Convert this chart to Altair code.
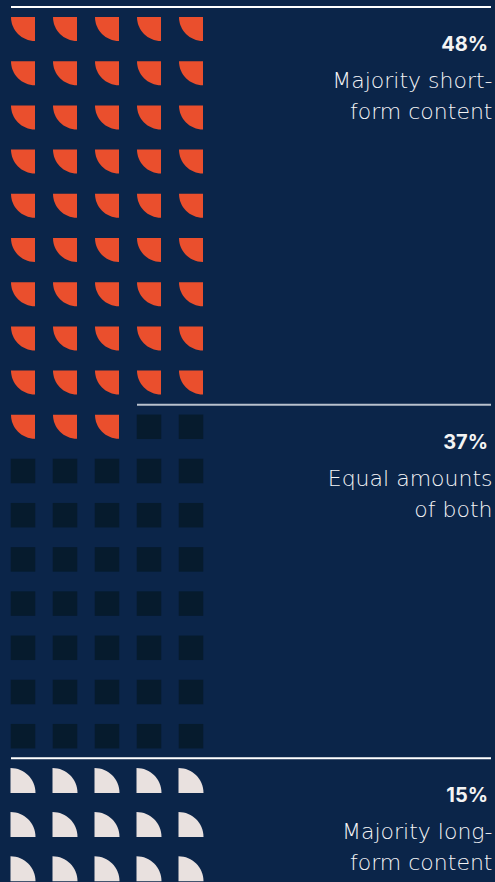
import altair as alt
import pandas as pd

# ---- data ----
categories = ["Majority short-form content", "Equal amounts of both", "Majority long-form content"]
percents = [48, 37, 15]
label_lines = [["Majority short-", "form content"], ["Equal amounts", "of both"], ["Majority long-", "form content"]]
n_cols = 5

# ---- styles ----
BG = "#0b2549"
colors = ["#ea4f2d", "#061b2d", "#e9e1df"]
shapes = [
    "M 1 -1 L 1 1 A 2 2 0 0 1 -1 -1 Z",   # quarter circle, corner top-right
    "square",
    "M -1 1 L -1 -1 A 2 2 0 0 1 1 1 Z",   # quarter circle, corner bottom-left
]
rule_colors = ["#ffffff", "#b9c1cd", "#ffffff"]

# ---- build tables ----
cells = []
idx = 0
for cat, p in zip(categories, percents):
    for _ in range(p):
        cells.append({"col": idx % n_cols, "row": idx // n_cols, "cat": cat})
        idx += 1
cells_df = pd.DataFrame(cells)

seps = []
start = 0
for k, (cat, p) in enumerate(zip(categories, percents)):
    seps.append({
        "cat": cat,
        "col": start % n_cols,
        "rowline": start // n_cols - 0.5,
        "pct": f"{p}%",
        "lines": label_lines[k],
        "rc": rule_colors[k],
    })
    start += p
seps_df = pd.DataFrame(seps)

W, H = 495, 882
# pixel mapping: col c -> 23 + 42c ; row r -> 29 + 44.2r
xs = alt.Scale(domain=[-23 / 42, (W - 23) / 42], range=[0, W], nice=False, zero=False)
ys = alt.Scale(domain=[-29 / 44.2, (H - 29) / 44.2], range=[0, H], nice=False, zero=False)
x_right = (491 - 23) / 42

cells_chart = alt.Chart(cells_df).mark_point(filled=True, opacity=1, strokeWidth=0).encode(
    x=alt.X("col:Q", scale=xs, axis=None),
    y=alt.Y("row:Q", scale=ys, axis=None),
    shape=alt.Shape("cat:N", scale=alt.Scale(domain=categories, range=shapes), legend=None),
    color=alt.Color("cat:N", scale=alt.Scale(domain=categories, range=colors), legend=None),
    size=alt.Size("cat:N", scale=alt.Scale(domain=categories, range=[576, 625, 576]), legend=None),
)

base = alt.Chart(seps_df).transform_calculate(xr=str(x_right))

rules = base.mark_rule(strokeWidth=2, xOffset=-12).encode(
    x=alt.X("col:Q", scale=xs, axis=None),
    x2=alt.X2("xr:Q"),
    y=alt.Y("rowline:Q", scale=ys, axis=None),
    color=alt.Color("rc:N", scale=None),
)

pct_text = base.mark_text(
    align="right", baseline="alphabetic", dy=44, dx=-3,
    font="Inter", fontSize=20, fontWeight="bold", color="#f4f4f4",
).encode(
    x=alt.X("xr:Q", scale=xs, axis=None),
    y=alt.Y("rowline:Q", scale=ys, axis=None),
    text="pct:N",
)

label_text = base.mark_text(
    align="right", baseline="alphabetic", dy=81, dx=1.5,
    font="DejaVu Sans", fontSize=22, fontWeight=200, lineHeight=31, color="#f4f4f6",
).encode(
    x=alt.X("xr:Q", scale=xs, axis=None),
    y=alt.Y("rowline:Q", scale=ys, axis=None),
    text="lines",
)

chart = alt.layer(cells_chart, rules, pct_text, label_text).properties(
    width=W, height=H, padding=0, autosize=alt.AutoSizeParams(type="none"),
    background=BG,
).configure_view(stroke=None)

chart.save("out.html", embed_options={"renderer": "svg", "actions": False})
